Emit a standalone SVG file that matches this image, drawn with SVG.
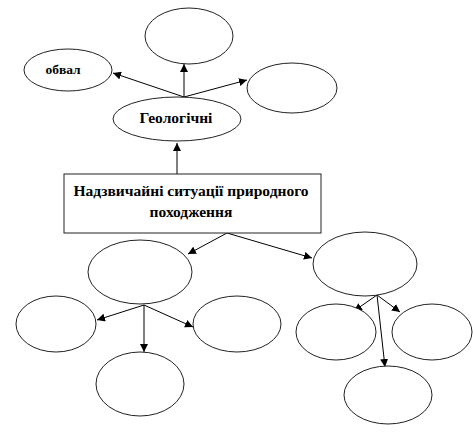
<svg xmlns="http://www.w3.org/2000/svg" width="473" height="432" viewBox="0 0 473 432">
<defs>
<marker id="ah" viewBox="0 0 10 10" refX="10" refY="5" markerWidth="8" markerHeight="8" markerUnits="userSpaceOnUse" orient="auto">
<path d="M0,0 L10,5 L0,10 Z" fill="#000"/>
</marker>
</defs>
<style>
.n{fill:#fff;stroke:#222;stroke-width:1}
.c{stroke:#000;stroke-width:1;fill:none;marker-end:url(#ah)}
.t{font-family:"Liberation Serif",serif;font-weight:bold;fill:#000;text-anchor:middle}
</style>
<rect width="473" height="432" fill="#fff"/>
<g id="connectors">
<line class="c" x1="177" y1="174" x2="177" y2="143"/>
<line class="c" x1="184" y1="97" x2="184" y2="64"/>
<line class="c" x1="184" y1="97" x2="113" y2="73"/>
<line class="c" x1="184" y1="97" x2="247" y2="80"/>
<line class="c" x1="227" y1="233" x2="188" y2="254"/>
<line class="c" x1="227" y1="233" x2="312" y2="258"/>
<line class="c" x1="144" y1="305" x2="97" y2="320"/>
<line class="c" x1="144" y1="305" x2="144" y2="352"/>
<line class="c" x1="144" y1="305" x2="193" y2="327"/>
<line class="c" x1="377" y1="295" x2="354" y2="311"/>
<line class="c" x1="377" y1="295" x2="400" y2="312"/>
<line class="c" x1="377" y1="295" x2="385" y2="367"/>
</g>
<g id="top"><ellipse class="n" cx="189" cy="36" rx="44" ry="28"/></g>
<g id="obval"><ellipse class="n" cx="68" cy="70" rx="44" ry="21"/><text class="t" x="63" y="74" font-size="13.5">обвал</text></g>
<g id="topright"><ellipse class="n" cx="292" cy="88" rx="45" ry="25"/></g>
<g id="geol"><ellipse class="n" cx="177" cy="119" rx="64" ry="22"/><text class="t" x="176" y="123" font-size="15.5">Геологічні</text></g>
<g id="root"><rect class="n" x="64" y="174" width="257" height="59"/>
<text class="t" x="191" y="196" font-size="15.5">Надзвичайні ситуації природного</text>
<text class="t" x="191" y="217" font-size="15.5">походження</text></g>
<g id="midleft"><ellipse class="n" cx="140" cy="272" rx="52" ry="32"/></g>
<g id="midright"><ellipse class="n" cx="365" cy="264" rx="52" ry="32"/></g>
<g id="l1"><ellipse class="n" cx="56" cy="324" rx="40" ry="28"/></g>
<g id="l2"><ellipse class="n" cx="237" cy="324" rx="44" ry="28"/></g>
<g id="l3"><ellipse class="n" cx="140" cy="384" rx="44" ry="32"/></g>
<g id="r1"><ellipse class="n" cx="336" cy="332" rx="40" ry="28"/></g>
<g id="r2"><ellipse class="n" cx="432" cy="332" rx="40" ry="28"/></g>
<g id="r3"><ellipse class="n" cx="388" cy="395" rx="44" ry="29"/></g>
</svg>
